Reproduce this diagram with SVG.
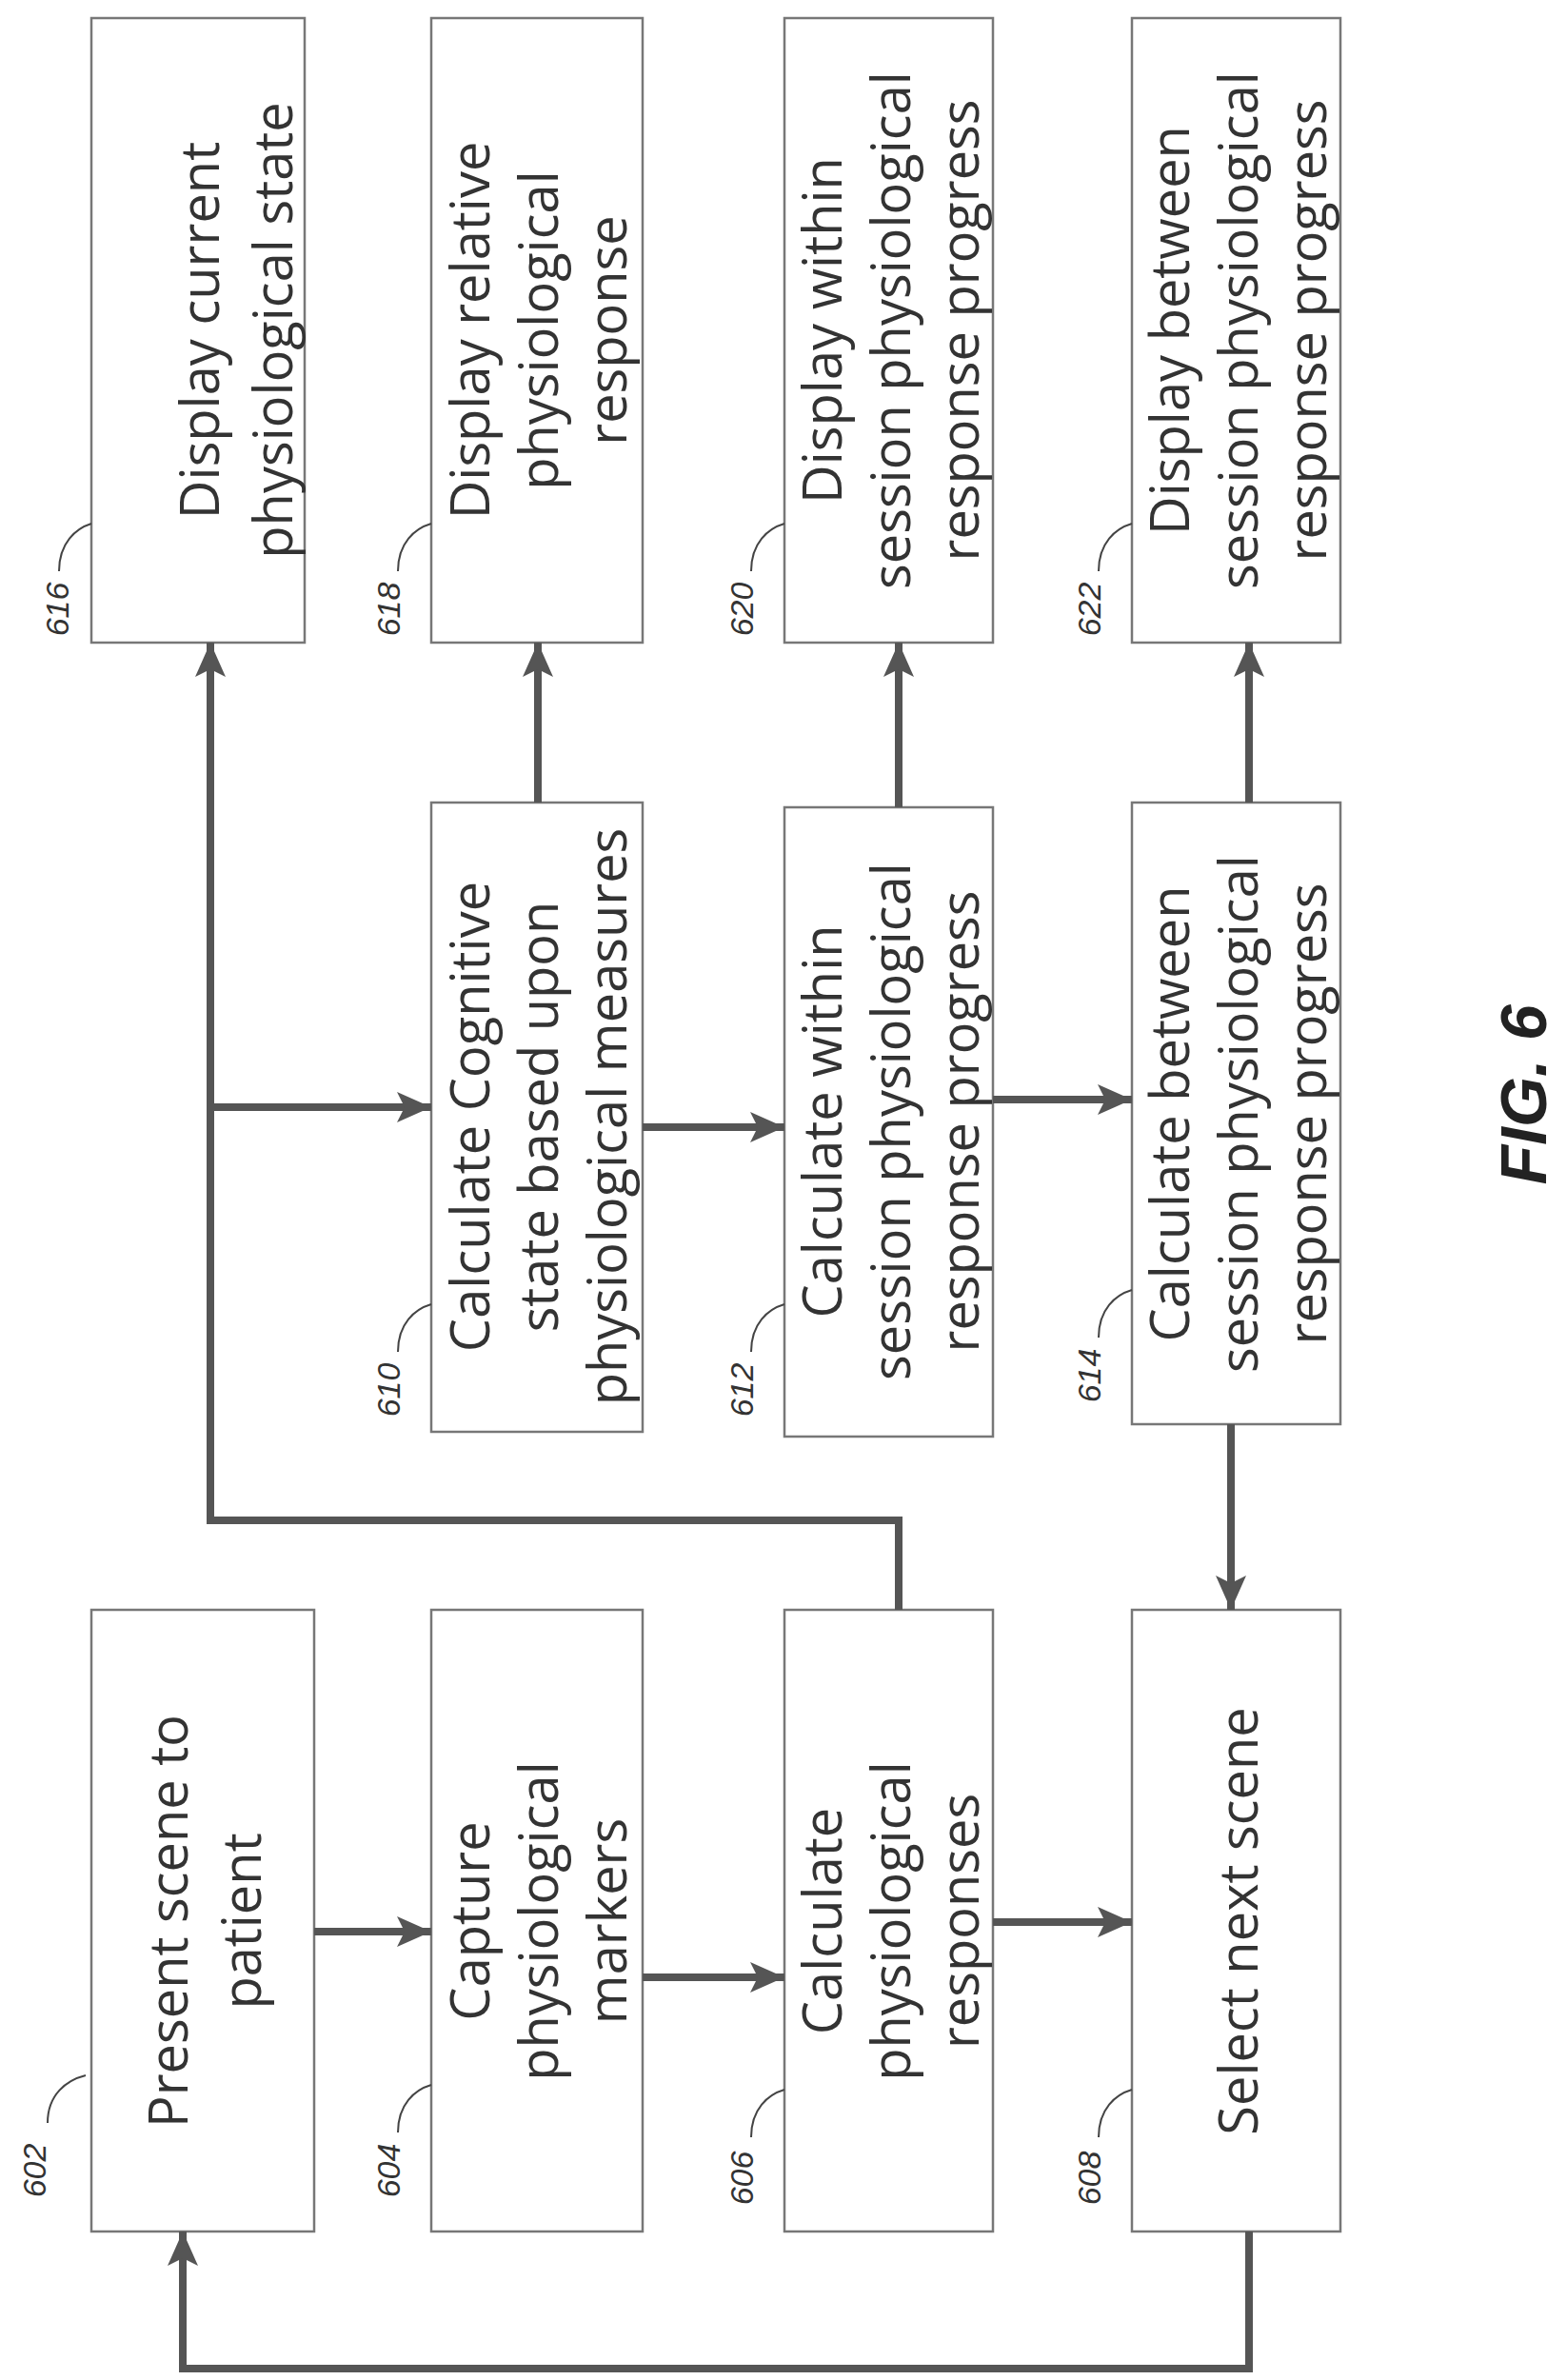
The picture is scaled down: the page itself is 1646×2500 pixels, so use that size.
<svg xmlns="http://www.w3.org/2000/svg" width="1646" height="2500" viewBox="0 0 1646 2500">
<style>
.b{fill:#fff;stroke:#777;stroke-width:2.5}
.t{font-family:"Open Sans","Liberation Sans",sans-serif;font-size:56px;fill:#333;text-anchor:middle;dominant-baseline:central}
.l{font-family:"Liberation Sans",sans-serif;font-style:italic;font-size:34px;fill:#333;text-anchor:middle;dominant-baseline:central}
.ld{fill:none;stroke:#444;stroke-width:2}
.c{fill:none;stroke:#555;stroke-width:8}
.a{marker-end:url(#ah)}
</style>
<defs>
<marker id="ah" markerUnits="userSpaceOnUse" markerWidth="40" markerHeight="40" viewBox="0 0 40 40" refX="38" refY="20" orient="auto">
<path d="M2,4 L38,20 L2,36 L10,20 Z" fill="#555"/>
</marker>
</defs>
<rect width="1646" height="2500" fill="#fff"/>
<g id="n616"><rect class="b" x="96" y="19" width="224" height="656"/>
<text class="t" transform="translate(208,347) rotate(-90)">Display current</text>
<text class="t" transform="translate(285,347) rotate(-90)">physiological state</text>
<path class="ld" d="M62,600 C62,570 80,555 96,550"/><text class="l" transform="translate(60,640) rotate(-90)">616</text></g>
<g id="n618"><rect class="b" x="453" y="19" width="222" height="656"/>
<text class="t" transform="translate(492,347) rotate(-90)">Display relative</text>
<text class="t" transform="translate(564,347) rotate(-90)">physiological</text>
<text class="t" transform="translate(636,347) rotate(-90)">response</text>
<path class="ld" d="M418,600 C418,570 436,555 453,550"/><text class="l" transform="translate(408,640) rotate(-90)">618</text></g>
<g id="n620"><rect class="b" x="824" y="19" width="219" height="656"/>
<text class="t" transform="translate(862,347) rotate(-90)">Display within</text>
<text class="t" transform="translate(934,347) rotate(-90)">session physiological</text>
<text class="t" transform="translate(1006,347) rotate(-90)">response progress</text>
<path class="ld" d="M789,600 C789,570 807,555 824,550"/><text class="l" transform="translate(779,640) rotate(-90)">620</text></g>
<g id="n622"><rect class="b" x="1189" y="19" width="219" height="656"/>
<text class="t" transform="translate(1227,347) rotate(-90)">Display between</text>
<text class="t" transform="translate(1299,347) rotate(-90)">session physiological</text>
<text class="t" transform="translate(1371,347) rotate(-90)">response progress</text>
<path class="ld" d="M1154,600 C1154,570 1172,555 1189,550"/><text class="l" transform="translate(1144,640) rotate(-90)">622</text></g>
<g id="n610"><rect class="b" x="453" y="843" width="222" height="661"/>
<text class="t" transform="translate(492,1173) rotate(-90)">Calculate Cognitive</text>
<text class="t" transform="translate(564,1173) rotate(-90)">state based upon</text>
<text class="t" transform="translate(636,1173) rotate(-90)">physiological measures</text>
<path class="ld" d="M418,1420 C418,1390 436,1375 453,1370"/><text class="l" transform="translate(408,1460) rotate(-90)">610</text></g>
<g id="n612"><rect class="b" x="824" y="848" width="219" height="661"/>
<text class="t" transform="translate(862,1178) rotate(-90)">Calculate within</text>
<text class="t" transform="translate(934,1178) rotate(-90)">session physiological</text>
<text class="t" transform="translate(1006,1178) rotate(-90)">response progress</text>
<path class="ld" d="M789,1420 C789,1390 807,1375 824,1370"/><text class="l" transform="translate(779,1460) rotate(-90)">612</text></g>
<g id="n614"><rect class="b" x="1189" y="843" width="219" height="653"/>
<text class="t" transform="translate(1227,1170) rotate(-90)">Calculate between</text>
<text class="t" transform="translate(1299,1170) rotate(-90)">session physiological</text>
<text class="t" transform="translate(1371,1170) rotate(-90)">response progress</text>
<path class="ld" d="M1154,1405 C1154,1375 1172,1360 1189,1355"/><text class="l" transform="translate(1144,1445) rotate(-90)">614</text></g>
<g id="n602"><rect class="b" x="96" y="1691" width="234" height="653"/>
<text class="t" transform="translate(175,2018) rotate(-90)">Present scene to</text>
<text class="t" transform="translate(252,2018) rotate(-90)">patient</text>
<path class="ld" d="M50,2230 C50,2200 70,2185 90,2180"/><text class="l" transform="translate(36,2280) rotate(-90)">602</text></g>
<g id="n604"><rect class="b" x="453" y="1691" width="222" height="653"/>
<text class="t" transform="translate(492,2018) rotate(-90)">Capture</text>
<text class="t" transform="translate(564,2018) rotate(-90)">physiological</text>
<text class="t" transform="translate(636,2018) rotate(-90)">markers</text>
<path class="ld" d="M418,2240 C418,2210 436,2195 453,2190"/><text class="l" transform="translate(408,2280) rotate(-90)">604</text></g>
<g id="n606"><rect class="b" x="824" y="1691" width="219" height="653"/>
<text class="t" transform="translate(862,2018) rotate(-90)">Calculate</text>
<text class="t" transform="translate(934,2018) rotate(-90)">physiological</text>
<text class="t" transform="translate(1006,2018) rotate(-90)">responses</text>
<path class="ld" d="M789,2245 C789,2215 807,2200 824,2195"/><text class="l" transform="translate(779,2288) rotate(-90)">606</text></g>
<g id="n608"><rect class="b" x="1189" y="1691" width="219" height="653"/>
<text class="t" transform="translate(1299,2018) rotate(-90)">Select next scene</text>
<path class="ld" d="M1154,2245 C1154,2215 1172,2200 1189,2195"/><text class="l" transform="translate(1144,2288) rotate(-90)">608</text></g>
<g id="connectors">
<path class="c a" d="M330,2029 H453"/>
<path class="c a" d="M675,2077 H824"/>
<path class="c a" d="M1043,2019 H1189"/>
<path class="c a" d="M675,1184 H824"/>
<path class="c a" d="M1043,1155 H1189"/>
<path class="c a" d="M565,843 V675"/>
<path class="c a" d="M944,848 V675"/>
<path class="c a" d="M1312,843 V675"/>
<path class="c a" d="M1293,1496 V1691"/>
<path class="c a" d="M944,1691 V1597 H221 V675"/>
<path class="c a" d="M221,1163 H453"/>
<path class="c a" d="M1312,2344 V2488 H192 V2344"/>
</g>
<text transform="translate(1600,1150) rotate(-90)" style="font-family:'Liberation Sans',sans-serif;font-weight:bold;font-style:italic;font-size:68px;fill:#222;text-anchor:middle;dominant-baseline:central">FIG. 6</text>
</svg>
